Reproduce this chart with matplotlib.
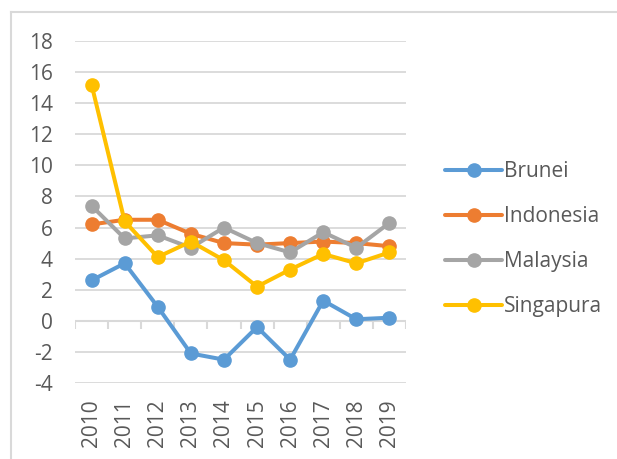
import matplotlib
matplotlib.use("Agg")
import matplotlib.pyplot as plt
from matplotlib.lines import Line2D
import numpy as np

years = ["2010", "2011", "2012", "2013", "2014", "2015", "2016", "2017", "2018", "2019"]
brunei = [2.6, 3.7, 0.9, -2.1, -2.5, -0.4, -2.5, 1.3, 0.1, 0.2]
indonesia = [6.2, 6.5, 6.5, 5.6, 5.0, 4.9, 5.0, 5.1, 5.0, 4.8]
malaysia = [7.4, 5.3, 5.5, 4.7, 6.0, 5.0, 4.4, 5.7, 4.7, 6.3]
singapura = [15.2, 6.4, 4.1, 5.1, 3.9, 2.2, 3.3, 4.3, 3.7, 4.4]
series_names = ["Brunei", "Indonesia", "Malaysia", "Singapura"]
yticks = list(range(-4, 19, 2))

colors = ["#5B9BD5", "#ED7D31", "#A5A5A5", "#FFC000"]
txt = "#595959"
grid = "#D9D9D9"
plt.rcParams['font.family'] = ['Open Sans', 'DejaVu Sans']

fig = plt.figure(figsize=(6.17, 4.59), dpi=100)
ax = fig.add_axes([75/617, 1-383/459, (406-75)/617, (383-41)/459])

x = np.arange(len(years))
for vals, name, c in zip([brunei, indonesia, malaysia, singapura], series_names, colors):
    ax.plot(x, vals, color=c, lw=2.9, marker='o', ms=9.5, label=name,
            solid_capstyle='round', solid_joinstyle='round', zorder=3)

ax.set_xlim(-0.5, len(years) - 0.5)
ax.set_ylim(-4, 18)
ax.set_yticks(yticks)
ax.set_yticklabels([str(v) for v in yticks])
for v in yticks:
    if v != 0:
        ax.axhline(v, color=grid, lw=1.3, zorder=1)
ax.axhline(0, color=grid, lw=1.5, zorder=2)
bounds = np.arange(len(years) + 1) - 0.5
ax.vlines(bounds, -0.5, 0, color=grid, lw=1.5, zorder=2)

fs = 15
ax.set_xticks(x)
ax.set_xticklabels(years, rotation=90)
ax.tick_params(axis='x', length=0, pad=12, labelsize=fs, labelcolor=txt)
ax.tick_params(axis='y', length=0, pad=16, labelsize=fs, labelcolor=txt)
for s in ax.spines.values():
    s.set_visible(False)

leg = ax.legend(loc='upper left', bbox_to_anchor=(445/617, 1-161/459),
                bbox_transform=fig.transFigure, frameon=False, fontsize=fs,
                handlelength=2.75, handletextpad=0.1, labelspacing=1.15,
                borderpad=0, borderaxespad=0)
for t in leg.get_texts():
    t.set_color(txt)

fig.add_artist(Line2D([11/617, 11/617], [0, 1-12/459], transform=fig.transFigure, color=grid, lw=1.5))
fig.add_artist(Line2D([11/617, 1], [1-12/459, 1-12/459], transform=fig.transFigure, color=grid, lw=1.5))

fig.savefig("out.png", dpi=100)
